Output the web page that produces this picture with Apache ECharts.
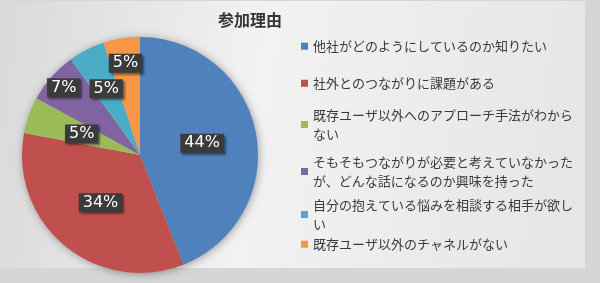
<!DOCTYPE html>
<html>
<head>
<meta charset="utf-8">
<script src="https://cdn.jsdelivr.net/npm/echarts@6/dist/echarts.min.js"></script>
<style>
    html, body { margin: 0; padding: 0; }
    #main { width: 600px; height: 283px; }
</style>
</head>
<body>
<div id="main"></div>
<script>
// 参加理由（%）
var titleText = "参加理由";
var reasons = [
    "他社がどのようにしているのか知りたい",
    "社外とのつながりに課題がある",
    "既存ユーザ以外へのアプローチ手法がわからない",
    "そもそもつながりが必要と考えていなかったが、どんな話になるのか興味を持った",
    "自分の抱えている悩みを相談する相手が欲しい",
    "既存ユーザ以外のチャネルがない"
];
var shares = [44, 34, 5, 7, 5, 5];

var colors = ["#4F81BD", "#C0504D", "#9BBB59", "#8064A2", "#4BACC6", "#F79646"];
// legend rows and label push-out factor, layout only
var legendTops = [32, 69, 101, 148, 191, 230];
var labelPush = [1.02, 1, 1, 1.64, 1.2, 1.5];
var pieCenter = [140, 155];
var pieRadius = 118;

var total = shares.reduce(function(a, b) { return a + b; }, 0);

var myChart = echarts.init(document.getElementById("main"));

var legends = reasons.map(function(name, i) {
    return {
        orient: "vertical",
        left: 296,
        top: legendTops[i],
        icon: "rect",
        itemWidth: 7,
        itemHeight: 7,
        itemGap: 0,
        selectedMode: false,
        data: [name],
        textStyle: {
            color: "#3a3a3a",
            fontSize: 13,
            fontFamily: "Noto Sans CJK JP",
            lineHeight: 18.5,
            width: 266,
            overflow: "break"
        }
    };
});

var option = {
    animation: false,
    backgroundColor: "#d6d6d6",
    color: colors,
    graphic: [{
        type: "rect",
        z: -10,
        shape: { x: 0, y: 1, width: 585, height: 267 },
        style: {
            fill: {
                type: "linear", x: 0, y: 0, x2: 1, y2: 0.3,
                colorStops: [
                    { offset: 0, color: "#d9d9d9" },
                    { offset: 0.45, color: "#f2f2f2" },
                    { offset: 1, color: "#e6e6e6" }
                ]
            }
        }
    }],
    title: {
        text: titleText,
        left: 245,
        top: 7,
        textAlign: "center",
        textStyle: {
            color: "#333",
            fontSize: 16,
            fontWeight: "bold",
            fontFamily: "Noto Sans CJK JP"
        }
    },
    legend: legends,
    series: [
        {
            // shadow under the whole pie
            type: "pie",
            silent: true,
            center: pieCenter,
            radius: pieRadius,
            label: { show: false },
            labelLine: { show: false },
            itemStyle: {
                color: "#bbb",
                shadowBlur: 8,
                shadowColor: "rgba(0,0,0,0.35)",
                shadowOffsetX: 1,
                shadowOffsetY: 1
            },
            data: [{ value: total, name: "" }],
            z: 1
        },
        {
            type: "pie",
            center: pieCenter,
            radius: pieRadius,
            startAngle: 90,
            clockwise: true,
            z: 2,
            data: reasons.map(function(name, i) {
                return { name: name, value: shares[i] };
            }),
            label: {
                show: true,
                position: "inside",
                formatter: function(p) {
                    return Math.round(p.percent) + "%";
                },
                color: "#fff",
                fontSize: 16,
                fontFamily: "DejaVu Sans",
                backgroundColor: "#3b3b3b",
                padding: [2, 4, 1, 4],
                shadowColor: "rgba(0,0,0,0.45)",
                shadowOffsetX: 2,
                shadowOffsetY: 2,
                shadowBlur: 2
            },
            labelLine: { show: false },
            labelLayout: function(params) {
                var r = params.labelRect;
                var k = labelPush[params.dataIndex] - 1;
                var dx = r.x + r.width / 2 - pieCenter[0];
                var dy = r.y + r.height / 2 - pieCenter[1];
                return { dx: dx * k, dy: dy * k };
            }
        }
    ]
};

myChart.setOption(option);
</script>
</body>
</html>
